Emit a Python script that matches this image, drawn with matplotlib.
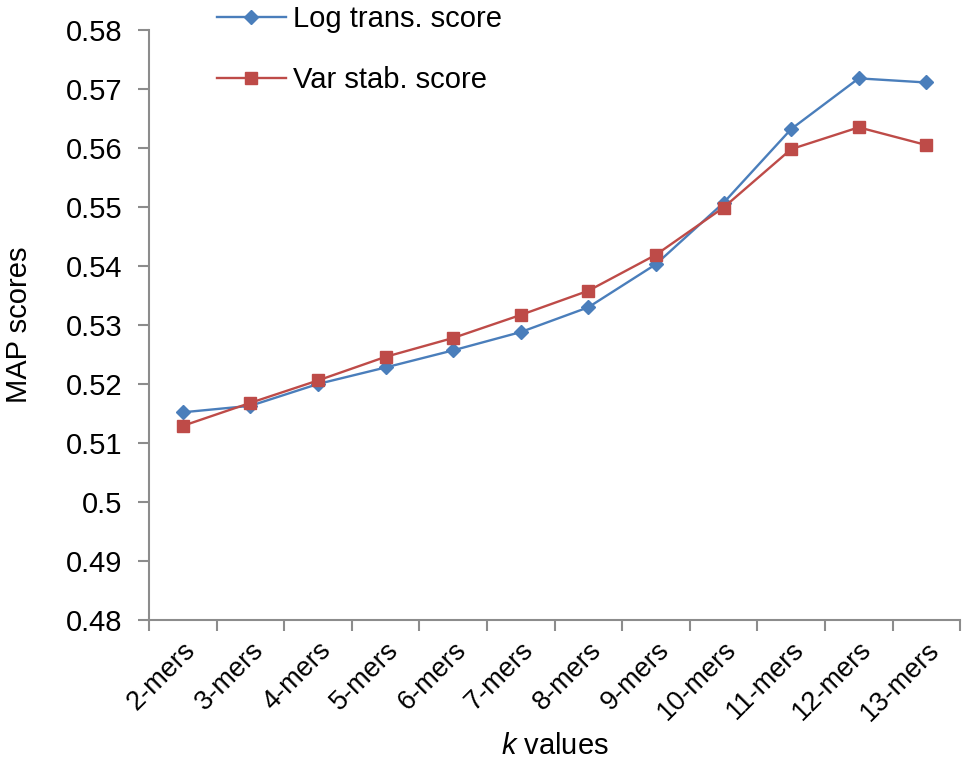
import matplotlib
matplotlib.use('Agg')
import matplotlib.pyplot as plt
from matplotlib.ticker import FixedLocator
import numpy as np

plt.rcParams['font.family'] = ['Liberation Sans', 'DejaVu Sans']
plt.rcParams['mathtext.fontset'] = 'custom'
plt.rcParams['mathtext.it'] = 'Liberation Sans:italic'
plt.rcParams['mathtext.rm'] = 'Liberation Sans'

# data
kmers = ['2-mers', '3-mers', '4-mers', '5-mers', '6-mers', '7-mers',
         '8-mers', '9-mers', '10-mers', '11-mers', '12-mers', '13-mers']
log_trans = [0.5152, 0.5163, 0.5200, 0.5228, 0.5257, 0.5288,
             0.5330, 0.5403, 0.5507, 0.5632, 0.5718, 0.5711]
var_stab = [0.5129, 0.5168, 0.5206, 0.5246, 0.5278, 0.5317,
            0.5358, 0.5419, 0.5499, 0.5598, 0.5635, 0.5605]
yticks = [0.48, 0.49, 0.50, 0.51, 0.52, 0.53, 0.54, 0.55, 0.56, 0.57, 0.58]

blue = '#4A7EBB'
red = '#BE4B48'
grey = '#8C8C8C'
fs = 21

fig = plt.figure(figsize=(9.63, 7.61), dpi=100)
ax = fig.add_axes([0.1547, 0.1853, 0.8423, 0.7753])

x = np.arange(len(kmers))
ax.plot(x, log_trans, color=blue, lw=1.7, marker='D', ms=7.5,
        label='Log trans. score')
ax.plot(x, var_stab, color=red, lw=1.7, marker='s', ms=9,
        label='Var stab. score')

ax.set_xlim(-0.5, len(kmers) - 0.5)
ax.set_ylim(0.48, 0.58)
ax.set_yticks(yticks)
ax.set_yticklabels(['%g' % v for v in yticks])

ax.set_xticks(x)
ax.set_xticklabels(kmers, rotation=45, ha='right', va='top',
                   rotation_mode='anchor')
ax.xaxis.set_minor_locator(FixedLocator(np.arange(-0.5, len(kmers), 1.0)))
ax.tick_params(axis='x', which='major', length=0, pad=12, labelsize=19.5)
ax.tick_params(axis='x', which='minor', length=8, width=1.5, color=grey,
               direction='out')
ax.tick_params(axis='y', length=8, width=1.5, color=grey, direction='out',
               labelsize=fs, pad=11)

for s in ['top', 'right']:
    ax.spines[s].set_visible(False)
for s in ['left', 'bottom']:
    ax.spines[s].set_color(grey)
    ax.spines[s].set_linewidth(1.5)

ax.set_xlabel(r'$\mathit{k}$ values', fontsize=fs)
ax.xaxis.set_label_coords(0.5, -0.19)
ax.set_ylabel('MAP scores', fontsize=fs, labelpad=24)

fig.legend(loc='upper left', bbox_to_anchor=(0.213, 1.009), frameon=False,
           fontsize=fs, labelspacing=1.14, handlelength=2.36,
           handletextpad=0.25, borderaxespad=0)

fig.savefig('out.png', dpi=100)
